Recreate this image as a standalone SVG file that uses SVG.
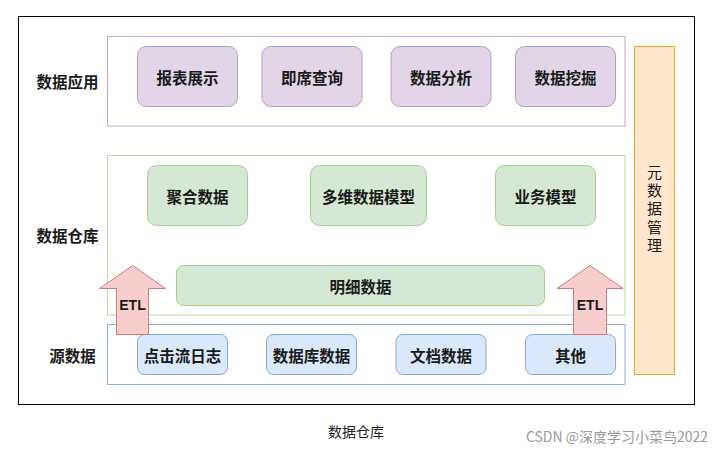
<svg xmlns="http://www.w3.org/2000/svg" width="723" height="451" viewBox="0 0 723 451">
<style>
text{font-family:"Noto Sans CJK SC","Liberation Sans",sans-serif;dominant-baseline:central;text-anchor:middle;fill:#1a1a1a}
.lbl{font-size:15.5px;font-weight:bold}
.bt{font-size:15.5px;font-weight:bold}
.pur{fill:#e1d5e7;stroke:#b59ec6;stroke-width:1}
.grn{fill:#d5e8d4;stroke:#a6cf8f;stroke-width:1}
.blu{fill:#dae8fc;stroke:#8aa8d6;stroke-width:1}
.arrow{fill:#f8cecc;stroke:#d27a76;stroke-width:1}
.etl{font-family:"Liberation Sans",Arial,sans-serif;font-size:14px;font-weight:bold}
.vt{font-size:15px;font-weight:normal;writing-mode:vertical-rl;letter-spacing:3.4px;dominant-baseline:auto}
</style>
<rect x="0" y="0" width="723" height="451" fill="#ffffff"/>
<rect x="18.5" y="16.5" width="676" height="388" fill="#ffffff" stroke="#000000" stroke-width="1"/>

<g id="layer-app">
<rect x="107.5" y="36.5" width="517.5" height="89.5" fill="#ffffff" stroke="#c0a8cf"/>
<text class="lbl" x="67.5" y="81">数据应用</text>
</g>
<g id="layer-dw">
<rect x="107.5" y="155.5" width="517.5" height="159.5" fill="#ffffff" stroke="#b9d9a6"/>
<text class="lbl" x="67.5" y="235">数据仓库</text>
</g>
<g id="layer-src">
<rect x="107.5" y="324.5" width="517.5" height="60" fill="#ffffff" stroke="#8eaedc"/>
<text class="lbl" x="72.5" y="355">源数据</text>
</g>

<g id="n-report"><rect class="pur" x="137.5" y="46.5" width="100" height="60" rx="9"/><text class="bt" x="187.5" y="76.5">报表展示</text></g>
<g id="n-query"><rect class="pur" x="262" y="46.5" width="100" height="60" rx="9"/><text class="bt" x="312" y="76.5">即席查询</text></g>
<g id="n-analysis"><rect class="pur" x="391" y="46.5" width="100" height="60" rx="9"/><text class="bt" x="441" y="76.5">数据分析</text></g>
<g id="n-mining"><rect class="pur" x="515.5" y="46.5" width="100" height="60" rx="9"/><text class="bt" x="565.5" y="76.5">数据挖掘</text></g>

<g id="n-agg"><rect class="grn" x="147.5" y="165.5" width="100" height="60" rx="9"/><text class="bt" x="197.5" y="195.5">聚合数据</text></g>
<g id="n-multi"><rect class="grn" x="310.5" y="165.5" width="116" height="60" rx="9"/><text class="bt" x="368.5" y="195.5">多维数据模型</text></g>
<g id="n-biz"><rect class="grn" x="495.5" y="165.5" width="100" height="60" rx="9"/><text class="bt" x="545.5" y="195.5">业务模型</text></g>
<g id="n-detail"><rect class="grn" x="176.5" y="265.5" width="368" height="40" rx="7"/><text class="bt" x="360.5" y="285.5">明细数据</text></g>

<g id="n-click"><rect class="blu" x="137.5" y="334.5" width="90" height="40" rx="7"/><text class="bt" x="182.5" y="354.5">点击流日志</text></g>
<g id="n-db"><rect class="blu" x="266.5" y="334.5" width="90" height="40" rx="7"/><text class="bt" x="311.5" y="354.5">数据库数据</text></g>
<g id="n-doc"><rect class="blu" x="396" y="334.5" width="90" height="40" rx="7"/><text class="bt" x="441" y="354.5">文档数据</text></g>
<g id="n-other"><rect class="blu" x="525.5" y="334.5" width="90" height="40" rx="7"/><text class="bt" x="570.5" y="354.5">其他</text></g>

<g id="n-meta">
<rect x="634.5" y="46.5" width="40" height="328" fill="#ffe6cc" stroke="#e8a92a"/>
<text class="vt" x="654.5" y="210.5">元数据管理</text>
</g>

<g id="connectors">
<g id="etl-left">
<path class="arrow" d="M116.5,334.5 L116.5,288.5 L99.5,288.5 L132.5,265.5 L165.5,288.5 L148.5,288.5 L148.5,334.5 Z"/>
<text class="etl" x="132.5" y="305">ETL</text>
</g>
<g id="etl-right">
<path class="arrow" d="M573.5,334.5 L573.5,288.5 L557,288.5 L590,265.5 L623,288.5 L606.5,288.5 L606.5,334.5 Z"/>
<text class="etl" x="590" y="305">ETL</text>
</g>
</g>

<text x="356" y="431" style="font-size:14px;fill:#222">数据仓库</text>
<text x="617" y="436" style="font-size:14px;fill:#9a9a9a">CSDN @深度学习小菜鸟2022</text>
</svg>
